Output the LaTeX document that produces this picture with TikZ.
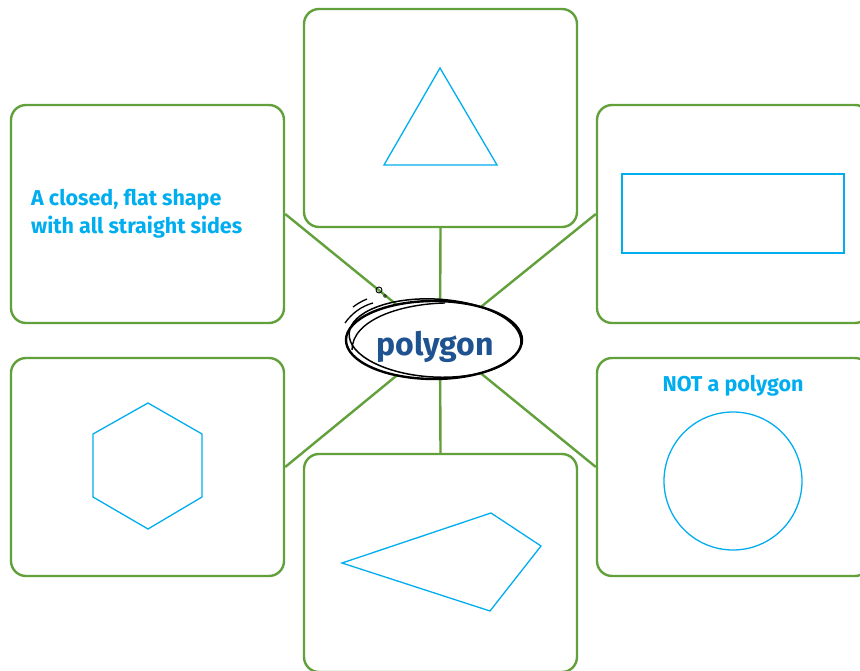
\documentclass[tikz,border=0pt]{standalone}
\usepackage{fontspec}
\setmainfont{Fira Sans}
\usetikzlibrary{shapes.geometric}
\definecolor{boxgreen}{HTML}{62A03B}
\definecolor{shapecyan}{HTML}{00AEEF}
\definecolor{titleblue}{HTML}{1F5290}
\begin{document}
\begin{tikzpicture}[x=1pt,y=-1pt,
  panel/.style={draw=boxgreen,line width=2.4pt,rounded corners=15pt,minimum width=273pt,minimum height=218pt,inner sep=0pt,fill=white},
  link/.style={draw=boxgreen,line width=2.4pt},
  shp/.style={draw=shapecyan,line width=1.3pt,line join=miter},
  lbl/.style={text=shapecyan,font=\bfseries\fontsize{21.5}{28}\selectfont,inner sep=0pt},
  sketch/.style={draw=black,line width=2.4pt}]
\clip (0,0) rectangle (860,671);
\fill[white] (0,0) rectangle (860,671);
\coordinate (c) at (440,340);
\node[panel] (lt) at (147.5,214) {};
\node[panel] (tc) at (440.5,118) {};
\node[panel] (rt) at (733.5,214) {};
\node[panel] (lb) at (147.5,467) {};
\node[panel] (bc) at (440.5,563) {};
\node[panel] (rb) at (733.5,467) {};
% connectors
\draw[link] (lt.east) -- (c);
\draw[link] (rt.west) -- (c);
\draw[link] (lb.east) -- (c);
\draw[link] (rb.west) -- (c);
\draw[link] (tc.south) -- (c);
\draw[link] (bc.north) -- (c);
% central ellipse
\node[ellipse,fill=white,minimum width=176pt,minimum height=78pt,inner sep=0pt] (hub) at (434,339) {};
\draw[sketch] (434,340) ellipse [x radius=88, y radius=39];
\draw[sketch,line width=1.5pt,rotate around={-3:(434,339)}] (435,338) ellipse [x radius=86, y radius=39];
\draw[sketch,line width=1.4pt] (352,350) .. controls (352,320) and (400,304) .. (445,303);
\draw[sketch,line width=1.3pt] (353,307) .. controls (357,304) and (362,301) .. (367,299);
\draw[sketch,line width=1.3pt] (345,323) .. controls (352,313) and (362,306) .. (373,303);
\draw[black,line width=0.9pt] (379,290) circle [radius=3];
\draw[black,line width=0.7pt] (385,296) circle [radius=1.5];
\node[text=titleblue,font=\bfseries\fontsize{32}{36}\selectfont,inner sep=0pt] (title) at (435,347) {polygon};
% contents
\node[lbl,align=left,anchor=west] (def) at (31,214) {A closed, flat shape\\with all straight sides};
\draw[shp] (440,68) -- (497,165) -- (384,165) -- cycle;
\draw[shp] (622,174) rectangle (844,253);
\draw[shp] (148,403) -- (202,434) -- (202,497) -- (148,529) -- (93,497) -- (93,434) -- cycle;
\draw[shp] (342,563) -- (491,513) -- (541,546) -- (490,611) -- cycle;
\node[lbl] (nota) at (733,386) {NOT a polygon};
\draw[shp] (733,481) circle [radius=69];
\end{tikzpicture}
\end{document}
